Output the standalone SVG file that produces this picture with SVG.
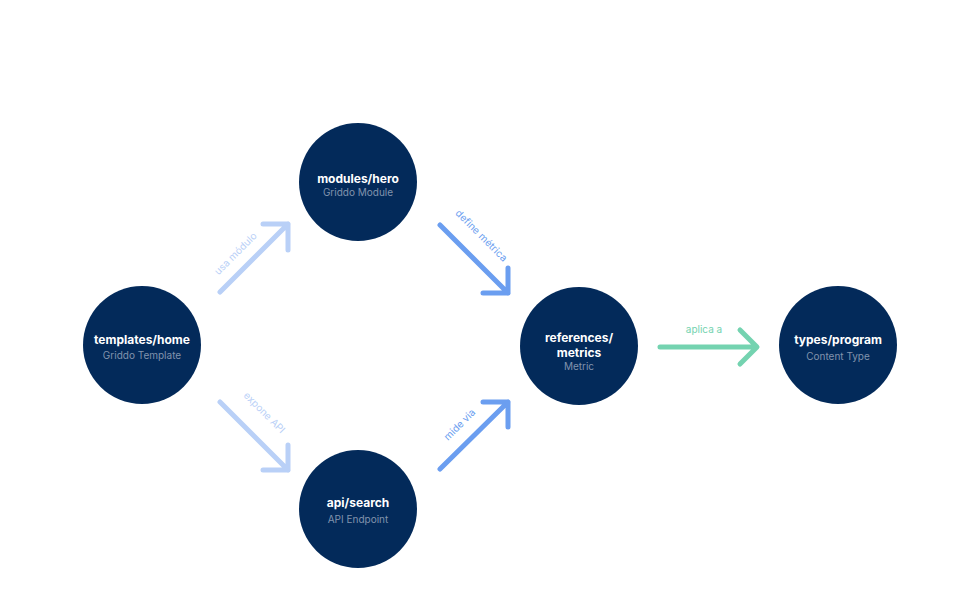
<svg xmlns="http://www.w3.org/2000/svg" width="962" height="600" viewBox="0 0 962 600">
<style>
.n{fill:#032a5a}
.t{font-family:Inter,"Noto Sans",sans-serif;font-size:12px;font-weight:700;fill:#fff;text-anchor:middle}
.s{font-family:Inter,"Noto Sans",sans-serif;font-size:10px;fill:#8193ad;text-anchor:middle}
.c{fill:none;stroke-width:5;stroke-linecap:round;stroke-linejoin:round}
.l{font-family:Inter,"Noto Sans",sans-serif;font-size:10px;text-anchor:middle}
</style>
<rect width="962" height="600" fill="#fff"/>
<g id="connectors">
<g stroke="#b9d0f7" class="c"><path d="M220 292L288 224M263 224H288V250"/><path d="M220 402L288 470M288 445V470H263"/></g>
<g stroke="#6b9ef0" class="c"><path d="M440 225L508 293M483 293H508V268"/><path d="M440 469L508 402M483 402H508V427"/></g>
<path stroke="#74d3b0" class="c" d="M660 347H756M740 330L757 347L740 364"/>
<text class="l" fill="#b9d0f7" transform="translate(238,256) rotate(-45)">usa módulo</text>
<text class="l" fill="#6b9ef0" transform="translate(479,238) rotate(45)">define métrica</text>
<text class="l" fill="#b9d0f7" transform="translate(262,415) rotate(45)">expone API</text>
<text class="l" fill="#6b9ef0" transform="translate(462,427) rotate(-45)">mide via</text>
<text class="l" fill="#74d3b0" x="704" y="333">aplica a</text>
</g>
<g id="templates-home"><circle class="n" cx="142" cy="345" r="59"/><text class="t" x="142" y="344">templates/home</text><text class="s" x="142" y="359">Griddo Template</text></g>
<g id="modules-hero"><circle class="n" cx="358" cy="182" r="59"/><text class="t" x="358" y="183">modules/hero</text><text class="s" x="358" y="196">Griddo Module</text></g>
<g id="api-search"><circle class="n" cx="358" cy="509" r="59"/><text class="t" x="358" y="507">api/search</text><text class="s" x="358" y="523">API Endpoint</text></g>
<g id="references-metrics"><circle class="n" cx="579" cy="346" r="59"/><text class="t" x="579" y="342">references/</text><text class="t" x="579" y="357">metrics</text><text class="s" x="579" y="370">Metric</text></g>
<g id="types-program"><circle class="n" cx="838" cy="345" r="59"/><text class="t" x="838" y="344">types/program</text><text class="s" x="838" y="360">Content Type</text></g>
</svg>
